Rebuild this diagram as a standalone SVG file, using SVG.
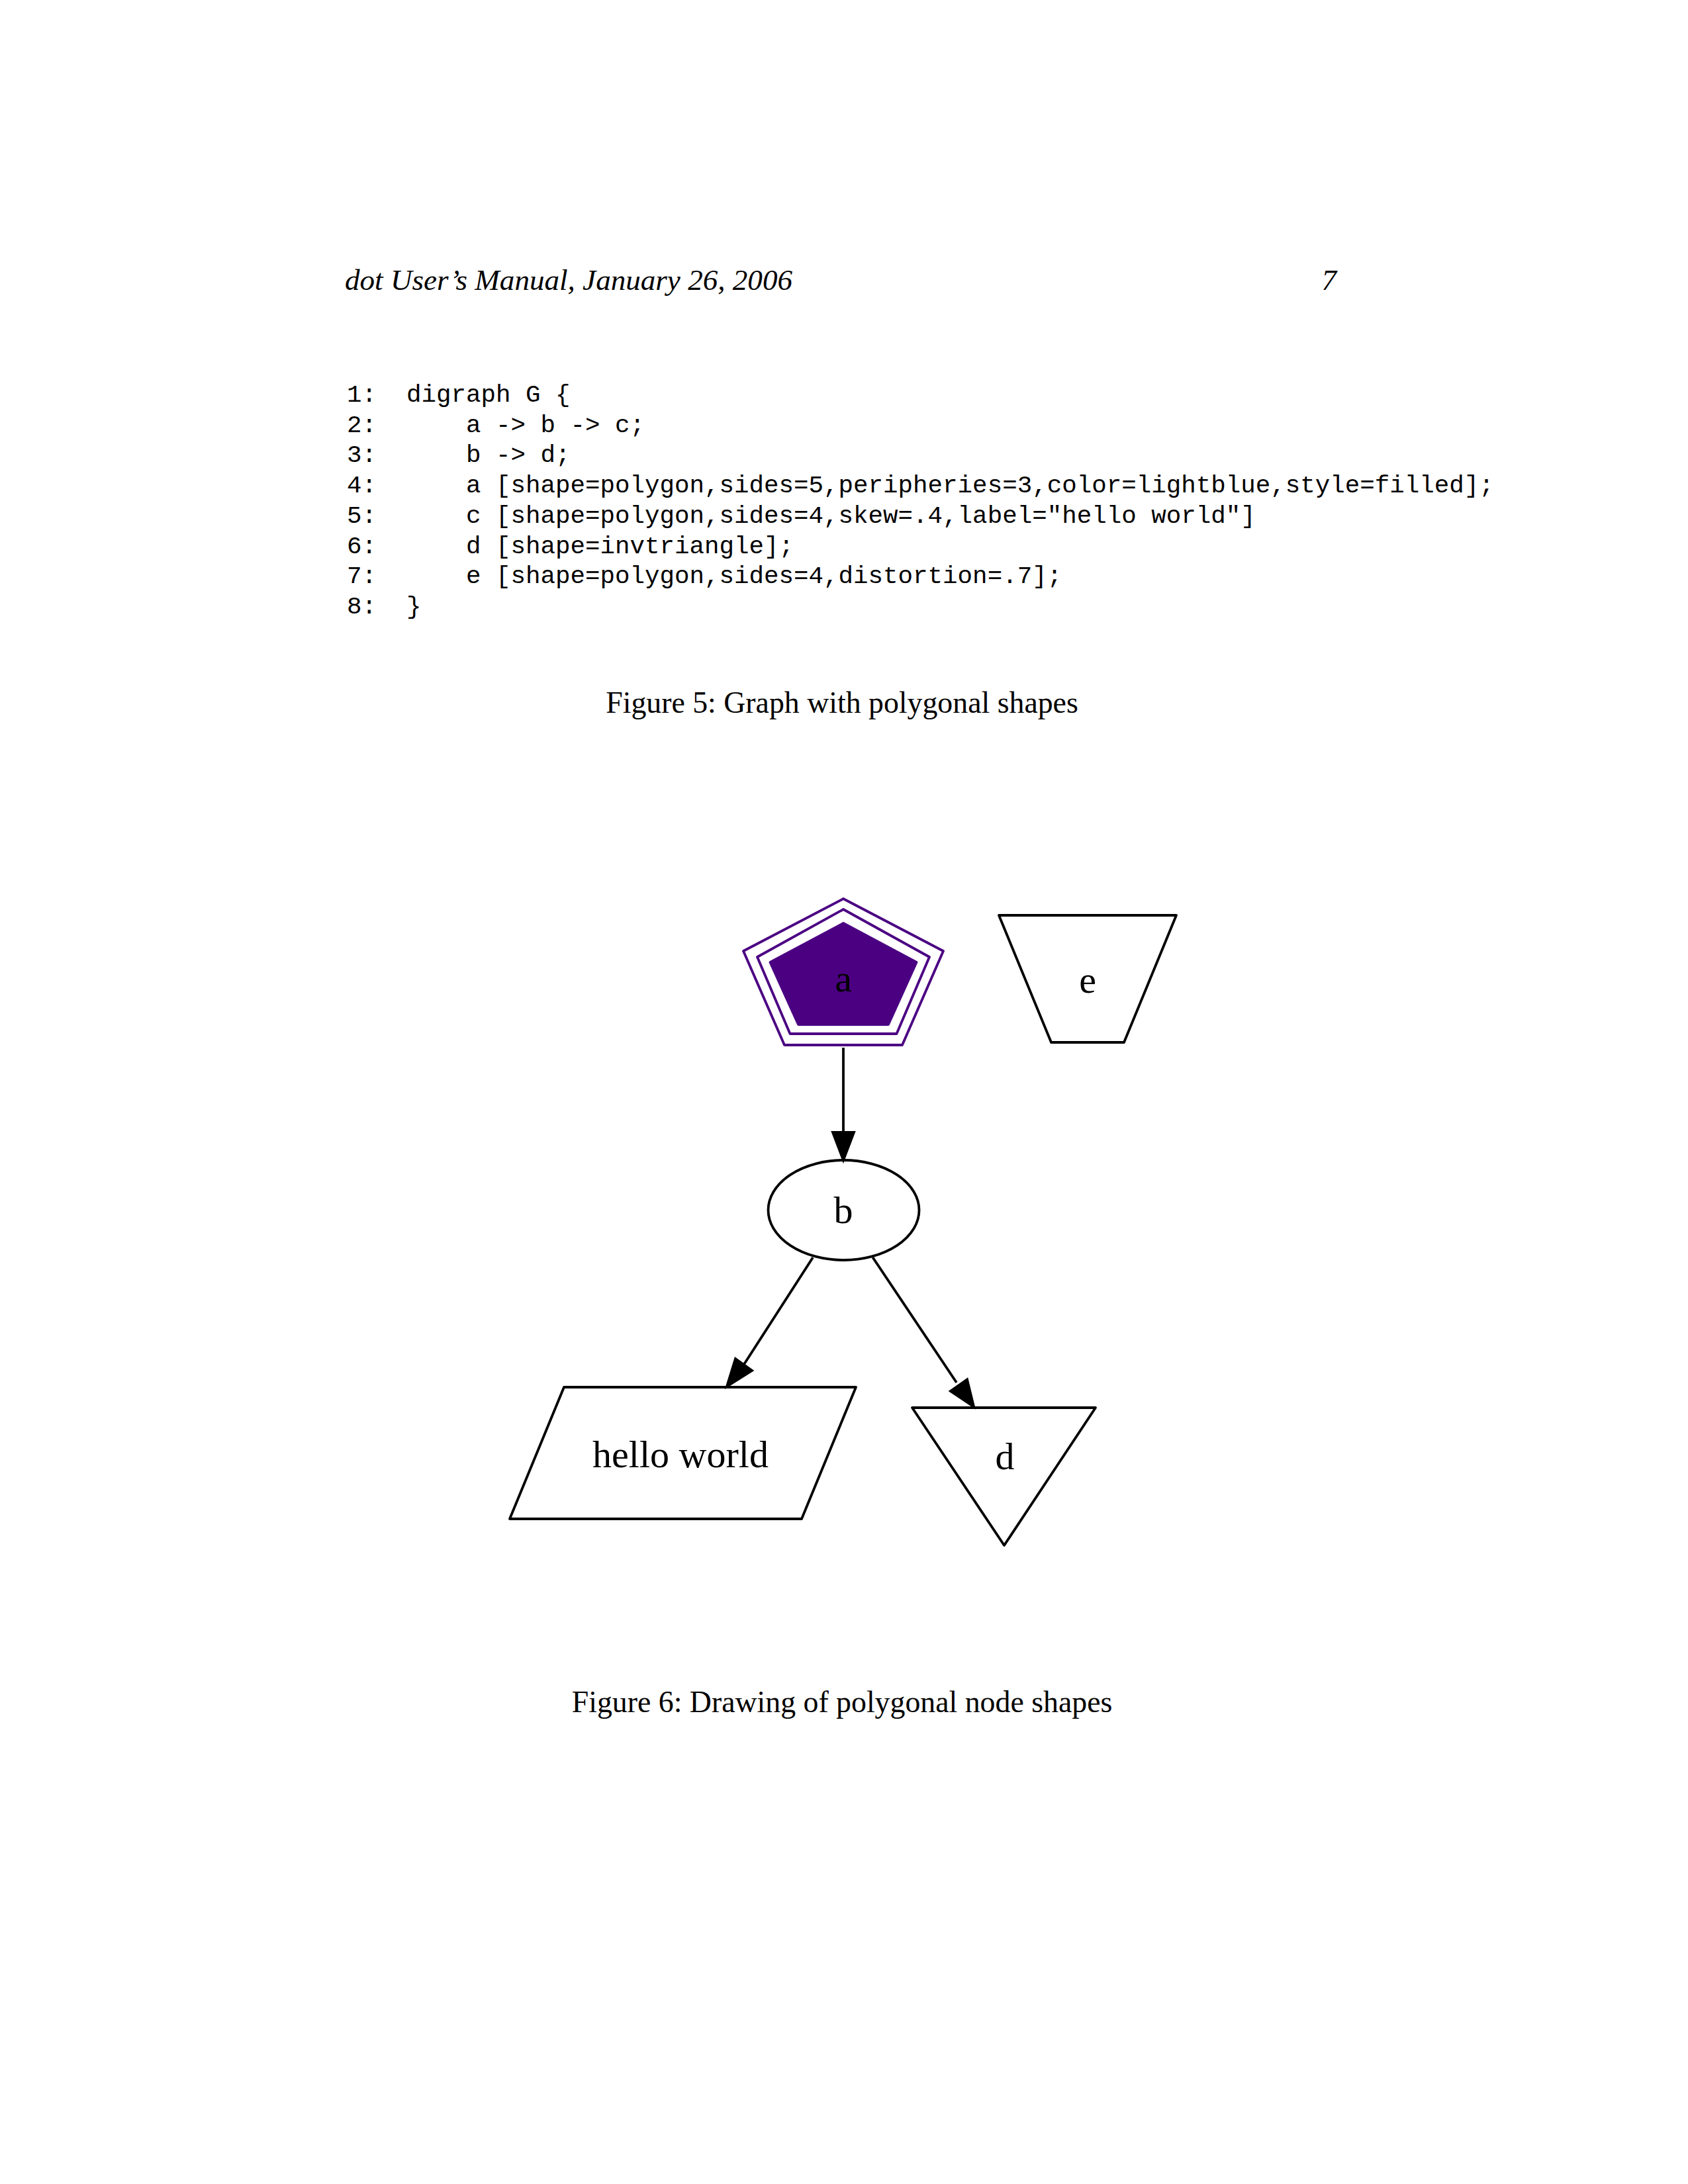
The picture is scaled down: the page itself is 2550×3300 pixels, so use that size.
<svg xmlns="http://www.w3.org/2000/svg" width="2550" height="3300" viewBox="0 0 2550 3300">
<style>
.hdr{font-family:"Liberation Serif",serif;font-style:italic;font-size:45px;fill:#000}
.cap{font-family:"Liberation Serif",serif;font-size:45.8px;fill:#000;text-anchor:middle}
.code{font-family:"Liberation Mono",monospace;font-size:37.5px;fill:#000}
.lbl{font-family:"Liberation Serif",serif;font-size:58px;fill:#000;text-anchor:middle}
.shape{fill:none;stroke:#000;stroke-width:3.8;stroke-linejoin:round}
.peri{fill:none;stroke:#4b0082;stroke-width:3.8;stroke-linejoin:round}
.edge{fill:none;stroke:#000;stroke-width:3.8}
.head{fill:#000;stroke:#000;stroke-width:3.8;stroke-linejoin:miter}
</style>
<rect width="2550" height="3300" fill="#fff"/>
<text class="hdr" x="521" y="438" textLength="676" lengthAdjust="spacingAndGlyphs">dot User’s Manual, January 26, 2006</text>
<text class="hdr" x="2019" y="438" text-anchor="end">7</text>
<g id="code">
<text class="code" x="524" y="607">1:</text><text class="code" x="614" y="607">digraph G {</text>
<text class="code" x="524" y="652.5">2:</text><text class="code" x="704" y="652.5">a -&gt; b -&gt; c;</text>
<text class="code" x="524" y="698">3:</text><text class="code" x="704" y="698">b -&gt; d;</text>
<text class="code" x="524" y="744">4:</text><text class="code" x="704" y="744">a [shape=polygon,sides=5,peripheries=3,color=lightblue,style=filled];</text>
<text class="code" x="524" y="790">5:</text><text class="code" x="704" y="790">c [shape=polygon,sides=4,skew=.4,label="hello world"]</text>
<text class="code" x="524" y="835.5">6:</text><text class="code" x="704" y="835.5">d [shape=invtriangle];</text>
<text class="code" x="524" y="881">7:</text><text class="code" x="704" y="881">e [shape=polygon,sides=4,distortion=.7];</text>
<text class="code" x="524" y="927">8:</text><text class="code" x="614" y="927">}</text>
</g>
<text class="cap" x="1272" y="1077">Figure 5: Graph with polygonal shapes</text>
<g id="edges">
<path class="edge" d="M1274,1583 L1274,1711"/>
<polygon class="head" points="1274,1753 1258,1711 1290,1711"/>
<path class="edge" d="M1228,1900 L1123,2063"/>
<polygon class="head" points="1098,2095 1111,2053 1136,2071"/>
<path class="edge" d="M1318.5,1900 L1445,2089"/>
<polygon class="head" points="1471,2125.5 1436,2102 1461,2084.5"/>
</g>
<g id="node-a">
<polygon class="peri" points="1274,1358 1425,1437 1363,1579 1185,1579 1123,1437"/>
<polygon class="peri" points="1274,1374 1404,1446 1354.5,1562 1193.5,1562 1144,1446"/>
<polygon class="peri" style="fill:#4b0082" points="1274,1395 1384.5,1454 1342,1548 1206,1548 1163.5,1454"/>
<text class="lbl" x="1274" y="1498">a</text>
</g>
<g id="node-e">
<polygon class="shape" points="1509,1383 1777,1383 1698,1575 1588,1575"/>
<text class="lbl" x="1643" y="1500">e</text>
</g>
<g id="node-b">
<ellipse class="shape" cx="1274.5" cy="1828.5" rx="114" ry="75.5"/>
<text class="lbl" x="1274" y="1848">b</text>
</g>
<g id="node-c">
<polygon class="shape" points="852,2096 1293,2096 1211,2295 770,2295"/>
<text class="lbl" x="1028" y="2217">hello world</text>
</g>
<g id="node-d">
<polygon class="shape" points="1378,2127 1655,2127 1517,2335"/>
<text class="lbl" x="1518" y="2220">d</text>
</g>
<text class="cap" x="1272" y="2587">Figure 6: Drawing of polygonal node shapes</text>
</svg>
